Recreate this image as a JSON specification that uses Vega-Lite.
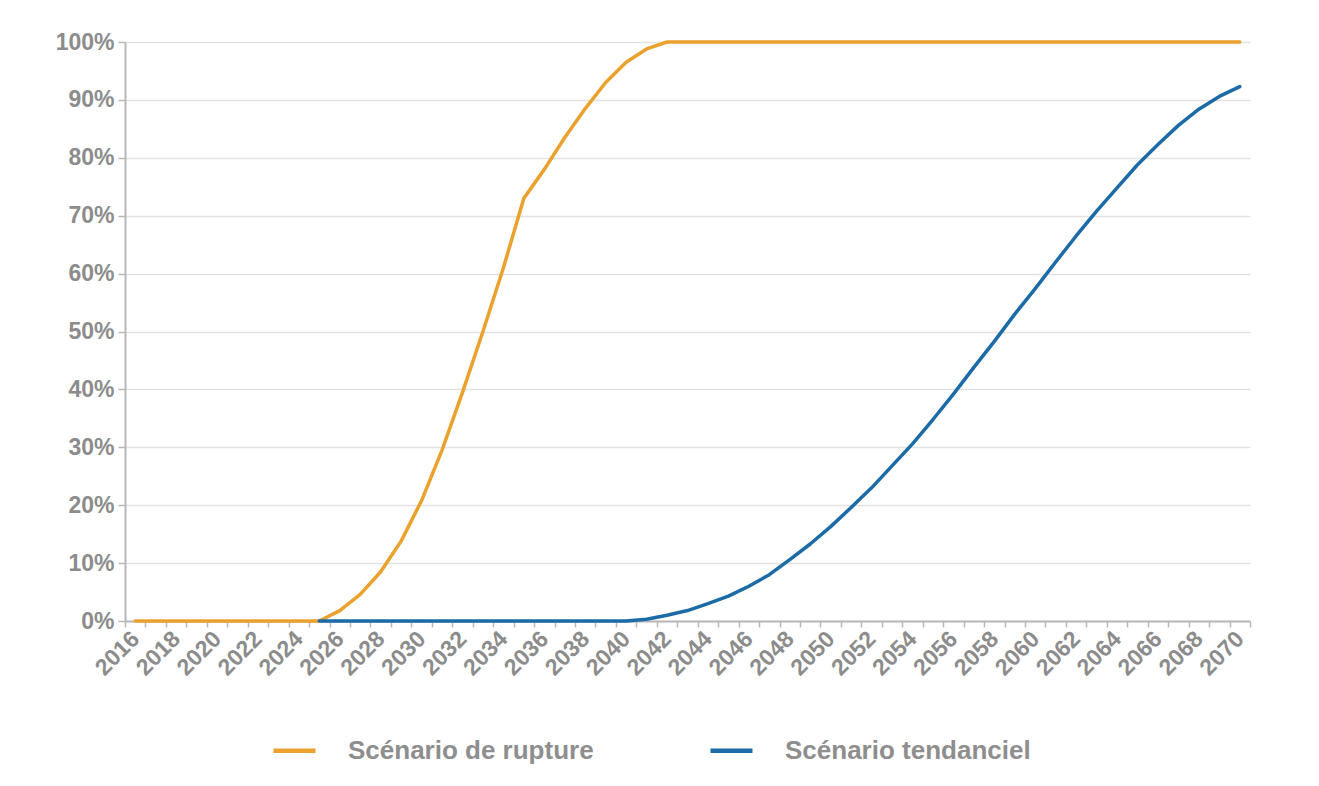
{
  "$schema": "https://vega.github.io/schema/vega-lite/v6.json",
  "width": 1125,
  "height": 579,
  "autosize": {"type": "none"},
  "padding": {"left": 125, "top": 42, "right": 69, "bottom": 165},
  "background": "white",
  "config": {"view": {"stroke": null}, "font": "Liberation Sans"},
  "data": {"values": [
    {"year": 2016, "s": "Scénario de rupture", "v": 0},
    {"year": 2017, "s": "Scénario de rupture", "v": 0},
    {"year": 2018, "s": "Scénario de rupture", "v": 0},
    {"year": 2019, "s": "Scénario de rupture", "v": 0},
    {"year": 2020, "s": "Scénario de rupture", "v": 0},
    {"year": 2021, "s": "Scénario de rupture", "v": 0},
    {"year": 2022, "s": "Scénario de rupture", "v": 0},
    {"year": 2023, "s": "Scénario de rupture", "v": 0},
    {"year": 2024, "s": "Scénario de rupture", "v": 0},
    {"year": 2025, "s": "Scénario de rupture", "v": 0},
    {"year": 2026, "s": "Scénario de rupture", "v": 1.8},
    {"year": 2027, "s": "Scénario de rupture", "v": 4.6},
    {"year": 2028, "s": "Scénario de rupture", "v": 8.5},
    {"year": 2029, "s": "Scénario de rupture", "v": 13.8},
    {"year": 2030, "s": "Scénario de rupture", "v": 20.8},
    {"year": 2031, "s": "Scénario de rupture", "v": 29.5},
    {"year": 2032, "s": "Scénario de rupture", "v": 39.5},
    {"year": 2033, "s": "Scénario de rupture", "v": 50},
    {"year": 2034, "s": "Scénario de rupture", "v": 61},
    {"year": 2035, "s": "Scénario de rupture", "v": 73},
    {"year": 2036, "s": "Scénario de rupture", "v": 78},
    {"year": 2037, "s": "Scénario de rupture", "v": 83.5},
    {"year": 2038, "s": "Scénario de rupture", "v": 88.5},
    {"year": 2039, "s": "Scénario de rupture", "v": 93},
    {"year": 2040, "s": "Scénario de rupture", "v": 96.5},
    {"year": 2041, "s": "Scénario de rupture", "v": 98.8},
    {"year": 2042, "s": "Scénario de rupture", "v": 100},
    {"year": 2043, "s": "Scénario de rupture", "v": 100},
    {"year": 2044, "s": "Scénario de rupture", "v": 100},
    {"year": 2045, "s": "Scénario de rupture", "v": 100},
    {"year": 2046, "s": "Scénario de rupture", "v": 100},
    {"year": 2047, "s": "Scénario de rupture", "v": 100},
    {"year": 2048, "s": "Scénario de rupture", "v": 100},
    {"year": 2049, "s": "Scénario de rupture", "v": 100},
    {"year": 2050, "s": "Scénario de rupture", "v": 100},
    {"year": 2051, "s": "Scénario de rupture", "v": 100},
    {"year": 2052, "s": "Scénario de rupture", "v": 100},
    {"year": 2053, "s": "Scénario de rupture", "v": 100},
    {"year": 2054, "s": "Scénario de rupture", "v": 100},
    {"year": 2055, "s": "Scénario de rupture", "v": 100},
    {"year": 2056, "s": "Scénario de rupture", "v": 100},
    {"year": 2057, "s": "Scénario de rupture", "v": 100},
    {"year": 2058, "s": "Scénario de rupture", "v": 100},
    {"year": 2059, "s": "Scénario de rupture", "v": 100},
    {"year": 2060, "s": "Scénario de rupture", "v": 100},
    {"year": 2061, "s": "Scénario de rupture", "v": 100},
    {"year": 2062, "s": "Scénario de rupture", "v": 100},
    {"year": 2063, "s": "Scénario de rupture", "v": 100},
    {"year": 2064, "s": "Scénario de rupture", "v": 100},
    {"year": 2065, "s": "Scénario de rupture", "v": 100},
    {"year": 2066, "s": "Scénario de rupture", "v": 100},
    {"year": 2067, "s": "Scénario de rupture", "v": 100},
    {"year": 2068, "s": "Scénario de rupture", "v": 100},
    {"year": 2069, "s": "Scénario de rupture", "v": 100},
    {"year": 2070, "s": "Scénario de rupture", "v": 100},
    {"year": 2025, "s": "Scénario tendanciel", "v": 0},
    {"year": 2026, "s": "Scénario tendanciel", "v": 0},
    {"year": 2027, "s": "Scénario tendanciel", "v": 0},
    {"year": 2028, "s": "Scénario tendanciel", "v": 0},
    {"year": 2029, "s": "Scénario tendanciel", "v": 0},
    {"year": 2030, "s": "Scénario tendanciel", "v": 0},
    {"year": 2031, "s": "Scénario tendanciel", "v": 0},
    {"year": 2032, "s": "Scénario tendanciel", "v": 0},
    {"year": 2033, "s": "Scénario tendanciel", "v": 0},
    {"year": 2034, "s": "Scénario tendanciel", "v": 0},
    {"year": 2035, "s": "Scénario tendanciel", "v": 0},
    {"year": 2036, "s": "Scénario tendanciel", "v": 0},
    {"year": 2037, "s": "Scénario tendanciel", "v": 0},
    {"year": 2038, "s": "Scénario tendanciel", "v": 0},
    {"year": 2039, "s": "Scénario tendanciel", "v": 0},
    {"year": 2040, "s": "Scénario tendanciel", "v": 0},
    {"year": 2041, "s": "Scénario tendanciel", "v": 0.3},
    {"year": 2042, "s": "Scénario tendanciel", "v": 1},
    {"year": 2043, "s": "Scénario tendanciel", "v": 1.8},
    {"year": 2044, "s": "Scénario tendanciel", "v": 3},
    {"year": 2045, "s": "Scénario tendanciel", "v": 4.3},
    {"year": 2046, "s": "Scénario tendanciel", "v": 6},
    {"year": 2047, "s": "Scénario tendanciel", "v": 8},
    {"year": 2048, "s": "Scénario tendanciel", "v": 10.6},
    {"year": 2049, "s": "Scénario tendanciel", "v": 13.3},
    {"year": 2050, "s": "Scénario tendanciel", "v": 16.3},
    {"year": 2051, "s": "Scénario tendanciel", "v": 19.6},
    {"year": 2052, "s": "Scénario tendanciel", "v": 23},
    {"year": 2053, "s": "Scénario tendanciel", "v": 26.8},
    {"year": 2054, "s": "Scénario tendanciel", "v": 30.6},
    {"year": 2055, "s": "Scénario tendanciel", "v": 34.8},
    {"year": 2056, "s": "Scénario tendanciel", "v": 39.2},
    {"year": 2057, "s": "Scénario tendanciel", "v": 43.8},
    {"year": 2058, "s": "Scénario tendanciel", "v": 48.3},
    {"year": 2059, "s": "Scénario tendanciel", "v": 53},
    {"year": 2060, "s": "Scénario tendanciel", "v": 57.4},
    {"year": 2061, "s": "Scénario tendanciel", "v": 62},
    {"year": 2062, "s": "Scénario tendanciel", "v": 66.5},
    {"year": 2063, "s": "Scénario tendanciel", "v": 70.8},
    {"year": 2064, "s": "Scénario tendanciel", "v": 74.8},
    {"year": 2065, "s": "Scénario tendanciel", "v": 78.8},
    {"year": 2066, "s": "Scénario tendanciel", "v": 82.3},
    {"year": 2067, "s": "Scénario tendanciel", "v": 85.6},
    {"year": 2068, "s": "Scénario tendanciel", "v": 88.4},
    {"year": 2069, "s": "Scénario tendanciel", "v": 90.6},
    {"year": 2070, "s": "Scénario tendanciel", "v": 92.3}
  ]},
  "mark": {"type": "line", "strokeWidth": 3.5, "strokeCap": "round", "strokeJoin": "round"},
  "encoding": {
    "x": {
      "field": "year", "type": "ordinal",
      "scale": {"type": "band", "paddingInner": 0, "paddingOuter": 0},
      "bandPosition": 0.5,
      "axis": {
        "title": null, "grid": false, "tickBand": "extent",
        "labelAngle": -45, "labelAlign": "right", "labelBaseline": "middle",
        "labelExpr": "datum.value % 2 == 0 ? datum.value : ''",
        "labelFontSize": 23, "labelFontWeight": "bold", "labelColor": "#8c8c8c",
        "labelPadding": 8, "labelDx": 8,
        "domainColor": "#b8b8b8", "domainWidth": 2,
        "tickColor": "#b8b8b8", "tickSize": 6, "tickWidth": 1.5
      }
    },
    "y": {
      "field": "v", "type": "quantitative",
      "scale": {"domain": [0, 100], "nice": false},
      "axis": {
        "title": null, "values": [0, 10, 20, 30, 40, 50, 60, 70, 80, 90, 100],
        "labelExpr": "datum.value + '%'",
        "labelFontSize": 23, "labelFontWeight": "bold", "labelColor": "#8c8c8c",
        "labelPadding": 4,
        "domainColor": "#b8b8b8", "domainWidth": 2,
        "tickColor": "#b8b8b8", "tickSize": 7, "tickWidth": 1.5,
        "gridColor": "#e2e2e2", "gridWidth": 1.5
      }
    },
    "color": {
      "field": "s", "type": "nominal",
      "sort": ["Scénario de rupture", "Scénario tendanciel"],
      "scale": {"domain": ["Scénario de rupture", "Scénario tendanciel"], "range": ["#EBA12D", "#1B6BA6"]},
      "legend": {
        "title": null, "orient": "none", "direction": "horizontal",
        "legendX": 146, "legendY": 685,
        "symbolType": "stroke", "symbolSize": 1764, "symbolStrokeWidth": 4.5,
        "labelFontSize": 26, "labelFontWeight": "bold", "labelColor": "#8e8e8e", "labelOffset": 30,
        "columnPadding": 107, "labelLimit": 400
      }
    }
  }
}
